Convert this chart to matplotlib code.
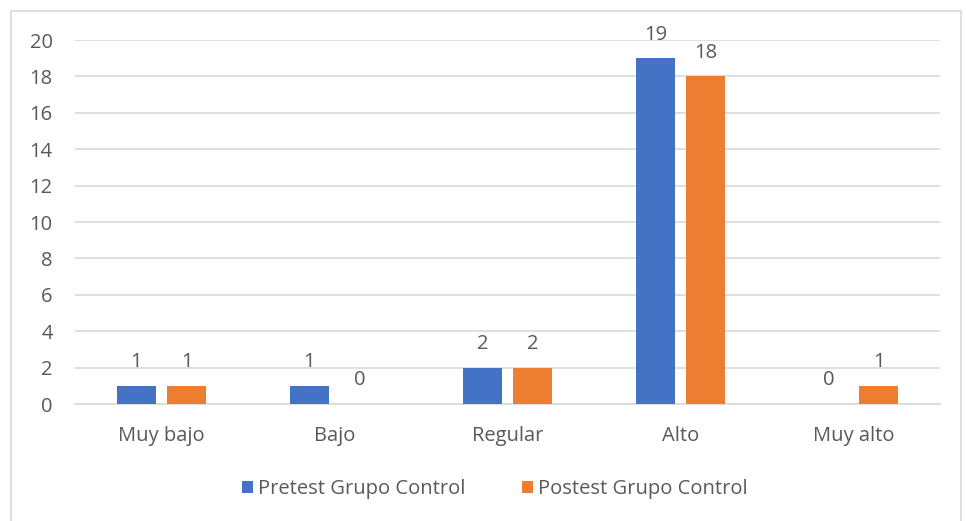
import matplotlib
matplotlib.use("Agg")
import matplotlib.pyplot as plt
from matplotlib.patches import Rectangle
import numpy as np

categories = ["Muy bajo", "Bajo", "Regular", "Alto", "Muy alto"]
pretest = [1, 1, 2, 19, 0]
postest = [1, 0, 2, 18, 1]
series_names = ["Pretest Grupo Control", "Postest Grupo Control"]
yticks = [0, 2, 4, 6, 8, 10, 12, 14, 16, 18, 20]

blue = "#4472C4"
orange = "#ED7D31"
txt = "#595959"
grid = "#D9D9D9"
fs = 14.5

plt.rcParams['font.family'] = ['Open Sans', 'DejaVu Sans']

fig = plt.figure(figsize=(9.66, 5.21), dpi=100)
fig.patches.append(Rectangle((11/966, -0.01), (961-11)/966, 1 - 11/521 + 0.01,
                             transform=fig.transFigure, fill=False,
                             edgecolor=grid, linewidth=1.2))
ax = fig.add_axes([75/966, 1-404/521, (940-75)/966, (404-40)/521])

x = np.arange(len(categories))
w = 0.225
off = 0.145
b1 = ax.bar(x - off, pretest, w, color=blue, label=series_names[0], zorder=3)
b2 = ax.bar(x + off, postest, w, color=orange, label=series_names[1], zorder=3)

for bars, vals in ((b1, pretest), (b2, postest)):
    for r, v in zip(bars, vals):
        ax.text(r.get_x() + r.get_width()/2, v + 0.75, str(v), ha='center', va='bottom',
                fontsize=fs, color=txt)

ax.set_xlim(-0.5, len(categories) - 0.5)
ax.set_ylim(0, 20)
ax.set_yticks(yticks)
ax.set_xticks(x)
ax.set_xticklabels(categories)
ax.yaxis.grid(True, color=grid, linewidth=1.2, zorder=0)
ax.set_axisbelow(True)
for s in ['top', 'right', 'left']:
    ax.spines[s].set_visible(False)
ax.spines['bottom'].set_color(grid)
ax.spines['bottom'].set_linewidth(1.2)
ax.tick_params(axis='both', length=0, labelsize=fs, colors=txt)
ax.tick_params(axis='y', pad=16)
ax.tick_params(axis='x', pad=16)

leg = fig.legend(handles=[b1, b2], labels=series_names, loc='center',
                 bbox_to_anchor=(495/966, 1-489/521), ncol=2, frameon=False,
                 fontsize=fs, handlelength=0.55, handleheight=0.55,
                 handletextpad=0.25, columnspacing=2.8)
for t in leg.get_texts():
    t.set_color(txt)

fig.savefig("out.png", dpi=100)
